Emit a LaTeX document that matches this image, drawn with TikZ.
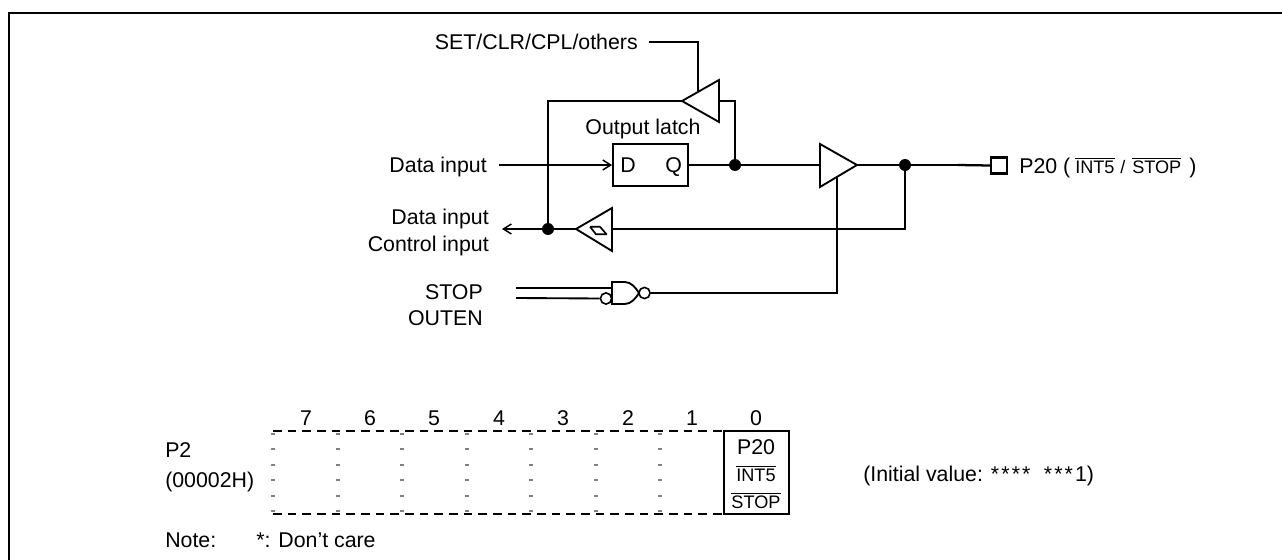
\documentclass[tikz,border=0pt]{standalone}
\usepackage{fontspec}
\setmainfont{Liberation Sans}
\usetikzlibrary{arrows.meta}
\newcommand\ovl[1]{\leavevmode\vbox{\hrule height .75pt \kern1.1pt \hbox{#1}}}
\newcommand\fa{\fontsize{16}{18}\selectfont}
\newcommand\fb{\fontsize{13.6}{16}\selectfont}
\newcommand\stars[1]{\foreach \i in {1,...,#1}{*\kern1.6pt}}
\tikzset{
  wire/.style={line width=1.4pt,line join=miter},
  ray/.style={wire,-{Straight Barb[length=6pt,width=7.5pt,line width=1.1pt]}},
  frameline/.style={line width=1.7pt},
  jdot/.style={circle,fill=black,inner sep=0pt,minimum size=9pt},
  bubble/.style={circle,draw=black,fill=white,line width=1.2pt,inner sep=0pt,minimum size=8.4pt},
  lbl/.style={inner sep=0pt,font=\fa,text=black},
  small/.style={inner sep=0pt,font=\fb,text=black},
  latchbox/.style={draw=black,line width=1.4pt,minimum width=56.25pt,minimum height=31.5pt,inner sep=0pt},
  pad/.style={draw=black,line width=1.8pt,minimum width=12pt,minimum height=12pt,inner sep=0pt,fill=white},
  regbox/.style={draw=black,line width=1.6pt,minimum width=48.75pt,minimum height=62.25pt,inner sep=0pt},
  regh/.style={line width=1.2pt,dash pattern=on 6.6pt off 4.4pt},
  regv/.style={line width=3pt,color=black!50,dash pattern=on 1.5pt off 10.1pt},
}
\begin{document}
\begin{tikzpicture}[x=0.75pt,y=-0.75pt]
\useasboundingbox (0,0) rectangle (1282,560);
% frame
\coordinate (fa) at (9,560);
\coordinate (fb) at (9,13);
\coordinate (fc) at (1282,13);
\draw[frameline] (fa) -- (fb) -- (fc);
% texts
\node[lbl,anchor=base east] (tset) at (638,50) {SET/CLR/CPL/others};
\node[lbl,anchor=base] (tlatch) at (643,134) {Output latch};
\node[lbl,anchor=base east] (tdata) at (487,172) {Data input};
\node[lbl,anchor=base east] (tdi) at (489,224) {Data input};
\node[lbl,anchor=base east] (tci) at (489,251) {Control input};
\node[lbl,anchor=base east] (tstop) at (483,299) {STOP};
\node[lbl,anchor=base east] (touten) at (483,325) {OUTEN};
% latch
\node[latchbox] (latch) at (650.5,165) {};
\node[lbl,anchor=base west] (d) at (620,172) {D};
\node[lbl,anchor=base west] (q) at (665,172) {Q};
% junctions
\node[jdot] (j1) at (735,165) {};
\node[jdot] (j2) at (905,165) {};
\node[jdot] (j3) at (548,229) {};
% upper feedback buffer
\coordinate (t1tip) at (682,101);
\coordinate (t1back) at (719,101);
\coordinate (t1top) at (719,80);
\coordinate (t1bot) at (719,122);
\coordinate (t1ctl) at (698,91);
\coordinate (setend) at (649,42);
\draw[wire] (t1tip) -- (t1top) -- (t1bot) -- cycle;
\draw[wire] (setend) -| (t1ctl);
\draw[wire] (t1tip) -| (j3);
\draw[wire] (t1back) -| (j1);
% data input
\coordinate (din) at (499,165);
\draw[ray] (din) -- (latch.west);
\draw[wire] (latch.east) -- (j1);
% output buffer
\coordinate (t2back) at (820,165);
\coordinate (t2tip) at (857,165);
\coordinate (t2top) at (820,144);
\coordinate (t2bot) at (820,187);
\coordinate (t2ctl) at (837,177);
\draw[wire] (t2tip) -- (t2top) -- (t2bot) -- cycle;
\draw[wire] (j1) -- (t2back);
\draw[wire] (t2tip) -- (j2);
% pad
\node[pad] (pad) at (999,165.5) {};
\coordinate (padl) at (958,165);
\draw[wire] (j2) -- (padl);
\draw[line width=1.7pt] (padl) -- (pad.west);
\node[lbl,anchor=base west] (tp20) at (1019,173) {P20 (};
\node[small,anchor=base west] (tint) at (1075,173) {\ovl{INT5}};
\node[small,anchor=base west] (tsl) at (1120,173) {/};
\node[small,anchor=base west] (tstp) at (1132,173) {\ovl{STOP}};
\node[lbl,anchor=base west] (tcl) at (1189,173) {)};
% input Schmitt buffer
\coordinate (t3tip) at (576,229);
\coordinate (t3back) at (612,229);
\coordinate (t3top) at (612,208);
\coordinate (t3bot) at (612,251);
\draw[wire] (t3tip) -- (t3top) -- (t3bot) -- cycle;
\draw[line width=1.25pt] (590,226.7) -- (600,226.7) (595,234.3) -- (607,234.3) (590,226.7) -- (596,234.3) (600,226.7) -- (606.5,234.3);
\draw[wire] (j2) |- (t3back);
\draw[wire] (t3tip) -- (j3);
\coordinate (dout) at (502,229);
\draw[ray] (j3) -- (dout);
% NAND
\coordinate (nbl) at (612,282);
\coordinate (ngt) at (625,282);
\coordinate (ngb) at (625,304);
\coordinate (nbb) at (612,304);
\coordinate (n1) at (612,288);
\draw[wire,fill=white] (nbl) -- (ngt) .. controls (631,282) and (636,288) .. (639,293) .. controls (636,298) and (631,304) .. (ngb) -- (nbb) -- cycle;
\node[bubble] (bout) at (644.5,293) {};
\node[bubble] (bin) at (606,298.5) {};
\coordinate (s1) at (516,288);
\coordinate (s2) at (516,298);
\draw[wire] (s1) -- (n1);
\draw[wire] (s2) -- (bin.west);
\draw[wire] (bout.east) -| (t2ctl);
% register
\coordinate (rtl) at (273,431);
\coordinate (rtr) at (724,431);
\coordinate (rbl) at (273,514);
\coordinate (rbr) at (724,514);
\draw[regh] (rtl) -- (rtr);
\draw[regh] (rbl) -- (rbr);
\foreach \x in {273,338,402,467,531,596,660}{
  \draw[regv] (\x,433) -- (\x,512);
}
\node[regbox] (reg0) at (756.5,472.5) {};
\node[lbl,anchor=base] (b7) at (306,425) {7};
\node[lbl,anchor=base] (b6) at (370,425) {6};
\node[lbl,anchor=base] (b5) at (434,425) {5};
\node[lbl,anchor=base] (b4) at (499,425) {4};
\node[lbl,anchor=base] (b3) at (563,425) {3};
\node[lbl,anchor=base] (b2) at (628,425) {2};
\node[lbl,anchor=base] (b1) at (692,425) {1};
\node[lbl,anchor=base] (b0) at (756,425) {0};
\node[lbl,anchor=base] (rp20) at (756,454) {P20};
\node[small,anchor=base] (rint) at (756,481) {\ovl{INT5}};
\node[small,anchor=base] (rstop) at (756,508) {\ovl{STOP}};
\node[lbl,anchor=base west] (tp2) at (165,457) {P2};
\node[lbl,anchor=base west] (taddr) at (165,487) {(00002H)};
\node[lbl,anchor=base west] (tnote) at (165,547) {Note:};
\node[lbl,anchor=base west] (tcare) at (256,547) {*: Don’t care};
\node[lbl,anchor=base west] (tinit) at (863,481) {(Initial value: *\kern1.6pt*\kern1.6pt*\kern1.6pt*\kern10pt*\kern1.6pt*\kern1.6pt*\kern1.6pt1)};
\end{tikzpicture}
\end{document}
